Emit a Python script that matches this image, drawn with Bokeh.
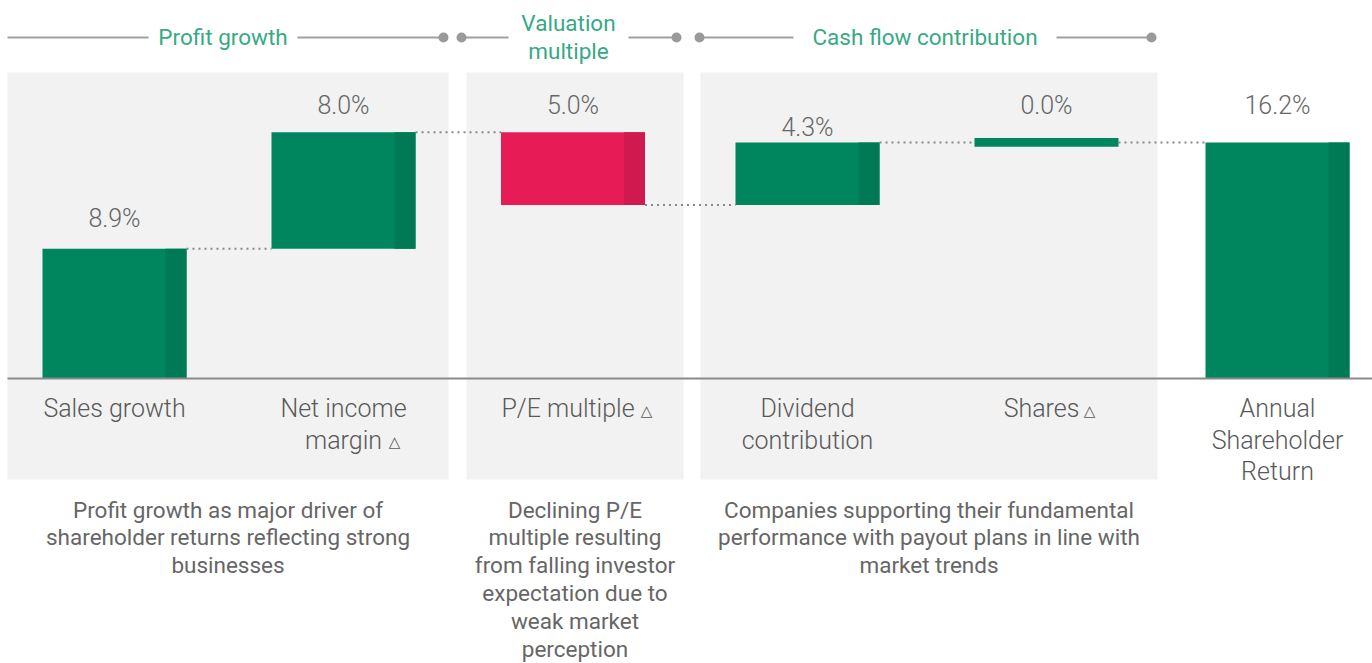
from bokeh.plotting import figure
from bokeh.models import Range1d
from bokeh.core.properties import value
from bokeh.embed import file_html
from bokeh.resources import INLINE

# ---------------- data ----------------
categories = ["Sales growth", "Net income\nmargin", "P/E multiple",
              "Dividend\ncontribution", "Shares", "Annual\nShareholder\nReturn"]
values = [8.9, 8.0, -5.0, 4.3, 0.0, 16.2]
value_labels = ["8.9%", "8.0%", "5.0%", "4.3%", "0.0%", "16.2%"]
has_delta = [False, True, True, False, True, False]
group_names = ["Profit growth", "Valuation\nmultiple", "Cash flow contribution"]
group_notes = [
    "Profit growth as major driver of\nshareholder returns reflecting strong\nbusinesses",
    "Declining P/E\nmultiple resulting\nfrom falling investor\nexpectation due to\nweak market\nperception",
    "Companies supporting their fundamental\nperformance with payout plans in line with\nmarket trends",
]

# ---------------- layout (pixels) ----------------
W, H = 1372, 663
BASE_PX = 378.0
PX_PER_PCT = 14.57
def ypx(pix):
    return (BASE_PX - pix) / PX_PER_PCT

bar_cx = [114, 343, 572.5, 807, 1046, 1277]
BAR_W = 144
STRIPE_W = 21
label_px = [218, 105, 105, 127, 105, 105]
cat_dx = [0, 0, -5, 0, -5, 0]
tri_x = [None, 394, 646, None, 1089, None]
panels = [(7, 448), (466, 683), (700, 1157)]
PANEL_TOP, PANEL_BOT = 72, 479
head_cx = [222.5, 568, 924.5]
head_lines = [[(7, 148), (297, 443)], [(461, 508), (628, 676)], [(699, 793), (1056, 1151)]]
head_dots = [[443], [461, 676], [699, 1151]]
HEAD_Y = 37
MIN_H = 0.6

GREEN, GREEN_D = "#00865F", "#007A55"
RED, RED_D = "#E71C57", "#D01A4F"
PANEL = "#F1F2F1"
GREY_LINE = "#A0A0A0"
TEAL = "#38A985"
FONT = value("Roboto Light")

p = figure(width=W, height=H, x_range=Range1d(0, W), y_range=Range1d(ypx(H), ypx(0)),
           output_backend="svg", toolbar_location=None, min_border=0,
           background_fill_color="white", border_fill_color="white")
p.axis.visible = False
p.xgrid.visible = False
p.ygrid.visible = False
p.outline_line_color = None

# panels
p.quad(left=[a for a, b in panels], right=[b for a, b in panels],
       top=[ypx(PANEL_TOP)] * 3, bottom=[ypx(PANEL_BOT)] * 3,
       fill_color=PANEL, line_color=None)

# waterfall geometry
n = len(values)
bottoms, tops, levels = [], [], []
cum = 0.0
for i, v in enumerate(values):
    if i == n - 1:
        b, t = 0.0, v
        cum = v
    else:
        b, t = min(cum, cum + v), max(cum, cum + v)
        cum += v
    if t - b < 1e-9:
        b, t = cum - MIN_H / 2, cum + MIN_H / 2
    bottoms.append(b); tops.append(t); levels.append(cum)

# connectors
xs0, xs1, ys = [], [], []
for i in range(n - 1):
    xs0.append(bar_cx[i] + BAR_W / 2)
    xs1.append(bar_cx[i + 1] - BAR_W / 2)
    ys.append(levels[i])
p.segment(x0=xs0, x1=xs1, y0=ys, y1=ys, line_color="#888888", line_width=2, line_dash="2 4")

colors = [GREEN if v >= 0 else RED for v in values]
dcolors = [GREEN_D if v >= 0 else RED_D for v in values]
p.quad(left=[c - BAR_W / 2 for c in bar_cx], right=[c + BAR_W / 2 for c in bar_cx],
       bottom=bottoms, top=tops, fill_color=colors, line_color=None)
si = [i for i, v in enumerate(values) if abs(v) > 1e-9]
p.quad(left=[bar_cx[i] + BAR_W / 2 - STRIPE_W for i in si], right=[bar_cx[i] + BAR_W / 2 for i in si],
       bottom=[bottoms[i] for i in si], top=[tops[i] for i in si],
       fill_color=[dcolors[i] for i in si], line_color=None)

# baseline
p.segment(x0=[7], x1=[W], y0=[0], y1=[0], line_color="#8A8A8A", line_width=2)

# value labels
p.text(x=bar_cx, y=[ypx(v) for v in label_px], text=value_labels, text_font=FONT,
       text_font_size="25px", text_color="#666666", text_align="center", text_baseline="middle")

# category labels
cx, cy, ct = [], [], []
tx, ty = [], []
for i, c in enumerate(categories):
    lines = c.split("\n")
    for j, ln in enumerate(lines):
        last = j == len(lines) - 1
        cx.append(bar_cx[i] + (cat_dx[i] if last else 0))
        cy.append(ypx(408 + j * 31.5))
        ct.append(ln)
        if last and has_delta[i]:
            tx.append(tri_x[i]); ty.append(ypx(410 + j * 31.5))
p.text(x=cx, y=cy, text=ct, text_font=FONT, text_font_size="25px", text_color="#595959",
       text_align="center", text_baseline="middle")
p.text(x=tx, y=ty, text=["\u25B3"] * len(tx), text_font=value("DejaVu Sans"), text_font_size="15px",
       text_color="#595959", text_align="center", text_baseline="middle")

# group headers
for g, name in enumerate(group_names):
    for (a, b) in head_lines[g]:
        p.segment(x0=[a], x1=[b], y0=[ypx(HEAD_Y)], y1=[ypx(HEAD_Y)], line_color=GREY_LINE, line_width=2)
    p.scatter(x=head_dots[g], y=[ypx(HEAD_Y)] * len(head_dots[g]), size=10,
              fill_color="#9A9A9A", line_color=None)
    lines = name.split("\n")
    start = HEAD_Y - 1 - (len(lines) - 1) * 28 / 2
    p.text(x=[head_cx[g]] * len(lines), y=[ypx(start + k * 28) for k in range(len(lines))],
           text=lines, text_font=value("Roboto"), text_font_size="22.5px", text_color=TEAL,
           text_align="center", text_baseline="middle")

# group notes
for g, note in enumerate(group_notes):
    lines = note.split("\n")
    cxg = (panels[g][0] + panels[g][1]) / 2
    p.text(x=[cxg] * len(lines), y=[ypx(509 + k * 27.8) for k in range(len(lines))],
           text=lines, text_font=value("Roboto"), text_font_size="22.5px", text_color="#666666",
           text_align="center", text_baseline="middle")

open("out.html", "w").write(file_html(p, INLINE))
